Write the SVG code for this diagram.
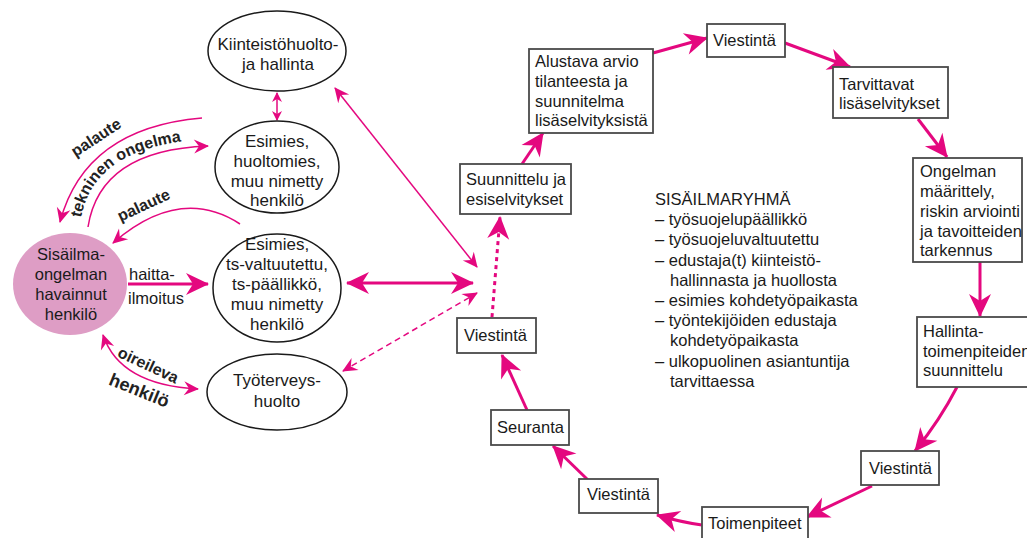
<svg xmlns="http://www.w3.org/2000/svg" width="1027" height="538" viewBox="0 0 1027 538">
<defs>
<style>
text{font-family:"Liberation Sans",Arial,sans-serif;fill:#1a1a1a}
.t{font-size:16.5px}
.te{font-size:17px;text-anchor:middle}
.lbl{font-size:16px;font-weight:bold;fill:#222}
.box{fill:#fff;stroke:#4a4a4a;stroke-width:1.8}
.ell{fill:#fff;stroke:#1a1a1a;stroke-width:1.5}
.flow{fill:none;stroke:#e4087f;stroke-width:3;marker-end:url(#big)}
.thin{fill:none;stroke:#e4087f;stroke-width:1.5}
</style>
<marker id="big" markerUnits="userSpaceOnUse" viewBox="-24 -12 26 24" refX="0" refY="0" markerWidth="26" markerHeight="24" orient="auto-start-reverse"><path d="M1,0 L-22,-11 L-15,0 L-22,11 Z" fill="#e4087f"/></marker>
<marker id="med" markerUnits="userSpaceOnUse" viewBox="-16 -8 18 16" refX="0" refY="0" markerWidth="18" markerHeight="16" orient="auto-start-reverse"><path d="M1,0 L-14,-7 L-9,0 L-14,7 Z" fill="#e4087f"/></marker>
<marker id="sm" markerUnits="userSpaceOnUse" viewBox="-12 -6 14 12" refX="0" refY="0" markerWidth="14" markerHeight="12" orient="auto-start-reverse"><path d="M1,0 L-9,-5 L-6,0 L-9,5 Z" fill="#e4087f"/></marker>
<path id="tekPath" d="M80,224 Q90,144 210,139"/>
</defs>
<rect width="1027" height="538" fill="#fff"/>

<g id="connectors">
<path class="thin" d="M202,118 Q85,128 60,222" marker-end="url(#med)"/>
<path class="thin" d="M88,227 Q100,150 208,146" marker-end="url(#med)"/>
<path class="thin" d="M240,224 Q180,185 113,243" marker-end="url(#med)"/>
<path class="thin" d="M103,335 Q120,385 198,389" marker-start="url(#med)" marker-end="url(#med)"/>
<path class="flow" d="M128,284 L208,284"/>
<path class="thin" d="M277,93 L277,120" marker-start="url(#sm)" marker-end="url(#sm)"/>
<path class="thin" d="M335,88 L477,267" marker-start="url(#med)" marker-end="url(#med)"/>
<path class="flow" d="M347,283 L473,283" marker-start="url(#big)"/>
<path class="thin" d="M343,371 L477,293" stroke-dasharray="6,4" marker-start="url(#med)" marker-end="url(#med)"/>
<path class="flow" d="M492,317 L500,217" stroke-dasharray="4,4"/>
<path class="flow" d="M522,164 L543,133"/>
<path class="flow" d="M653,53 L707,38"/>
<path class="flow" d="M785,43 L850,67"/>
<path class="flow" d="M918,119 L947,157"/>
<path class="flow" d="M980,262 L980,316"/>
<path class="flow" d="M957,387 Q940,420 915,451"/>
<path class="flow" d="M872,486 L807,517"/>
<path class="flow" d="M702,525 Q680,522 657,515"/>
<path class="flow" d="M588,480 L553,446"/>
<path class="flow" d="M527,410 L502,355"/>
</g>

<g id="connector-labels">
<text class="lbl" transform="translate(99,142) rotate(-33)" text-anchor="middle">palaute</text>
<text class="lbl"><textPath href="#tekPath" startOffset="6">tekninen ongelma</textPath></text>
<text class="lbl" transform="translate(146,210) rotate(-25)" text-anchor="middle">palaute</text>
<text class="t" x="129" y="280">haitta-</text>
<text class="t" x="128" y="304">ilmoitus</text>
<text class="lbl" transform="translate(146,370) rotate(25)" text-anchor="middle">oireileva</text>
<text class="lbl" transform="translate(137,396) rotate(22)" text-anchor="middle" style="font-size:18px">henkilö</text>
</g>

<g id="n-sisailma">
<ellipse cx="70" cy="284" rx="57" ry="51" fill="#de9dc5"/>
<text class="te" x="71" y="260" style="font-size:16.5px">Sisäilma-</text>
<text class="te" x="71" y="280" style="font-size:16.5px">ongelman</text>
<text class="te" x="71" y="300" style="font-size:16.5px">havainnut</text>
<text class="te" x="71" y="320" style="font-size:16.5px">henkilö</text>
</g>

<g id="n-kiinteisto">
<ellipse class="ell" cx="277" cy="51" rx="69" ry="40"/>
<text class="te" x="278" y="50">Kiinteistöhuolto-</text>
<text class="te" x="278" y="70">ja hallinta</text>
</g>

<g id="n-esimies-huolto">
<ellipse class="ell" cx="277" cy="167" rx="62" ry="46"/>
<text class="te" x="277" y="147">Esimies,</text>
<text class="te" x="277" y="167">huoltomies,</text>
<text class="te" x="277" y="187">muu nimetty</text>
<text class="te" x="277" y="206">henkilö</text>
</g>

<g id="n-esimies-ts">
<ellipse class="ell" cx="277" cy="288" rx="64" ry="54"/>
<text class="te" x="277" y="250">Esimies,</text>
<text class="te" x="277" y="270">ts-valtuutettu,</text>
<text class="te" x="277" y="290">ts-päällikkö,</text>
<text class="te" x="277" y="310">muu nimetty</text>
<text class="te" x="277" y="330">henkilö</text>
</g>

<g id="n-tyoterveys">
<ellipse class="ell" cx="277" cy="392" rx="70" ry="38"/>
<text class="te" x="277" y="386">Työterveys-</text>
<text class="te" x="277" y="407">huolto</text>
</g>

<g id="n-suunnittelu">
<rect class="box" x="460" y="164" width="111" height="50"/>
<text class="t" x="466" y="185">Suunnittelu ja</text>
<text class="t" x="466" y="205">esiselvitykset</text>
</g>

<g id="n-alustava">
<rect class="box" x="529" y="49" width="124" height="84"/>
<text class="t" x="535" y="67">Alustava arvio</text>
<text class="t" x="535" y="87">tilanteesta ja</text>
<text class="t" x="535" y="107">suunnitelma</text>
<text class="t" x="535" y="126">lisäselvityksistä</text>
</g>

<g id="n-viestinta1">
<rect class="box" x="707" y="24" width="78" height="33"/>
<text class="t" x="713" y="46">Viestintä</text>
</g>

<g id="n-tarvittavat">
<rect class="box" x="833" y="67" width="115" height="51"/>
<text class="t" x="839" y="90">Tarvittavat</text>
<text class="t" x="839" y="109">lisäselvitykset</text>
</g>

<g id="n-ongelman">
<rect class="box" x="913" y="158" width="109" height="104"/>
<text class="t" x="920" y="177">Ongelman</text>
<text class="t" x="920" y="197">määrittely,</text>
<text class="t" x="920" y="217">riskin arviointi</text>
<text class="t" x="920" y="237">ja tavoitteiden</text>
<text class="t" x="920" y="256">tarkennus</text>
</g>

<g id="n-hallinta">
<rect class="box" x="917" y="317" width="120" height="70"/>
<text class="t" x="923" y="337">Hallinta-</text>
<text class="t" x="923" y="357">toimenpiteiden</text>
<text class="t" x="923" y="376">suunnittelu</text>
</g>

<g id="n-viestinta2">
<rect class="box" x="861" y="451" width="78" height="34"/>
<text class="t" x="869" y="474">Viestintä</text>
</g>

<g id="n-toimenpiteet">
<rect class="box" x="702" y="507" width="106" height="36"/>
<text class="t" x="708" y="529">Toimenpiteet</text>
</g>

<g id="n-viestinta3">
<rect class="box" x="579" y="479" width="79" height="34"/>
<text class="t" x="587" y="500">Viestintä</text>
</g>

<g id="n-seuranta">
<rect class="box" x="491" y="410" width="78" height="35"/>
<text class="t" x="497" y="433">Seuranta</text>
</g>

<g id="n-viestinta4">
<rect class="box" x="457" y="318" width="79" height="35"/>
<text class="t" x="464" y="341">Viestintä</text>
</g>

<g id="sisailmaryhma">
<text class="t" x="655" y="205">SISÄILMARYHMÄ</text>
<text class="t" x="655" y="225">– työsuojelupäällikkö</text>
<text class="t" x="655" y="245">– työsuojeluvaltuutettu</text>
<text class="t" x="655" y="266">– edustaja(t) kiinteistö-</text>
<text class="t" x="670" y="286">hallinnasta ja huollosta</text>
<text class="t" x="655" y="306">– esimies kohdetyöpaikasta</text>
<text class="t" x="655" y="326">– työntekijöiden edustaja</text>
<text class="t" x="670" y="346">kohdetyöpaikasta</text>
<text class="t" x="655" y="367">– ulkopuolinen asiantuntija</text>
<text class="t" x="670" y="387">tarvittaessa</text>
</g>
</svg>
